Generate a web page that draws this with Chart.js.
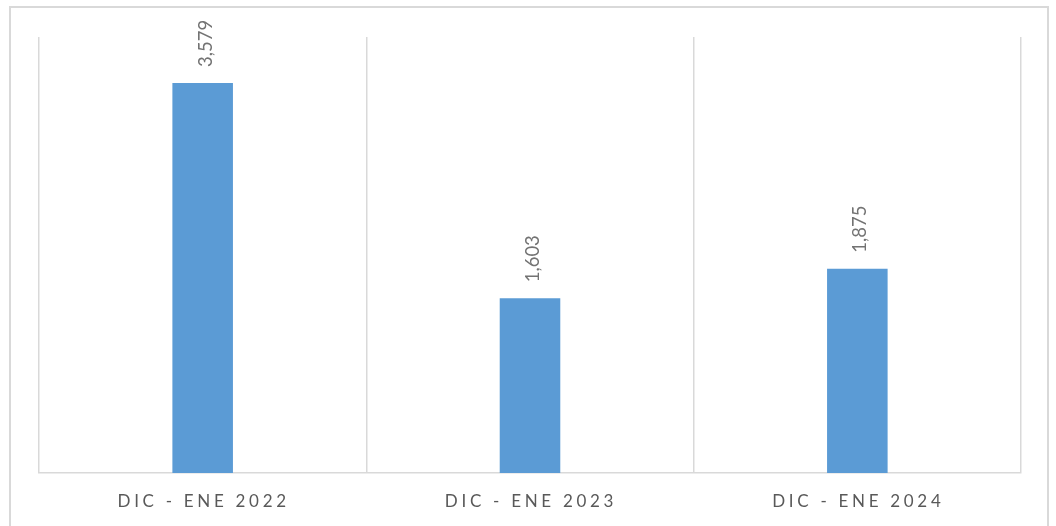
<!DOCTYPE html>
<html>
<head>
<meta charset="utf-8">
<script src="https://cdn.jsdelivr.net/npm/chart.js@4.4.0/dist/chart.umd.min.js"></script>
<style>
  html, body { margin: 0; padding: 0; background: #fff; width: 1056px; height: 526px; overflow: hidden; }
  #frame { position: absolute; left: 9px; top: 6px; width: 1040px; height: 540px; border: 2px solid #d9d9d9; box-sizing: border-box; }
  #wrap { position: absolute; left: 0; top: 0; width: 1056px; height: 526px; }
</style>
</head>
<body>
<div id="frame"></div>
<div id="wrap"><canvas id="c"></canvas></div>
<script>
const categories = ["DIC - ENE 2022", "DIC - ENE 2023", "DIC - ENE 2024"];
const values = [3579, 1603, 1875];
const valueLabels = ["3,579", "1,603", "1,875"];

const labelPlugin = {
  id: 'customLabels',
  afterDatasetsDraw(chart) {
    const ctx = chart.ctx;
    const meta = chart.getDatasetMeta(0);
    ctx.save();
    ctx.fillStyle = '#737373';
    ctx.font = '18.5px Lato';
    ctx.textAlign = 'left';
    ctx.textBaseline = 'middle';
    meta.data.forEach((bar, i) => {
      ctx.save();
      ctx.translate(bar.x + 3, bar.y - 16);
      ctx.rotate(-Math.PI / 2);
      ctx.fillText(valueLabels[i], 0, 0);
      ctx.restore();
    });
    // category labels
    const xs = chart.scales.x;
    ctx.fillStyle = '#595959';
    ctx.font = '17px Lato';
    ctx.textAlign = 'center';
    ctx.textBaseline = 'middle';
    if ('letterSpacing' in ctx) ctx.letterSpacing = '3.7px';
    categories.forEach((c, i) => {
      const x = xs.getPixelForValue(i);
      ctx.fillText(c, x + 1, 502);
    });
    ctx.restore();
  }
};

new Chart(document.getElementById('c'), {
  type: 'bar',
  data: {
    labels: categories,
    datasets: [{
      data: values,
      backgroundColor: '#5b9bd5',
      borderWidth: 0,
      barPercentage: 0.185,
      categoryPercentage: 1.0
    }]
  },
  options: {
    responsive: true,
    maintainAspectRatio: false,
    animation: false,
    layout: { padding: { left: 39, right: 35, top: 37, bottom: 53 } },
    plugins: { legend: { display: false }, tooltip: { enabled: false } },
    scales: {
      x: {
        ticks: { display: false },
        grid: { display: true, color: '#d9d9d9', lineWidth: 1.5, drawTicks: false, offset: true },
        border: { display: true, color: '#d9d9d9', width: 1.5 }
      },
      y: {
        display: false,
        min: 0,
        max: 4000
      }
    }
  },
  plugins: [labelPlugin]
});
</script>
</body>
</html>
